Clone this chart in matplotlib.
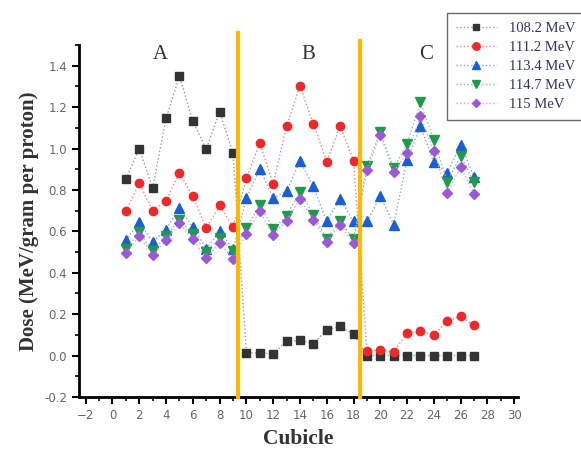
import matplotlib
matplotlib.use("Agg")
import matplotlib.pyplot as plt
from matplotlib.ticker import MultipleLocator

cubicle = list(range(1, 28))
dose_108_2 = [0.853, 0.998, 0.81, 1.146, 1.351, 1.132, 0.998, 1.178, 0.979,
              0.013, 0.013, 0.008, 0.069, 0.074, 0.058, 0.125, 0.141, 0.103,
              0.0, 0.0, 0.0, 0.0, 0.0, 0.0, 0.0, 0.0, 0.0]
dose_111_2 = [0.698, 0.833, 0.698, 0.749, 0.882, 0.77, 0.616, 0.725, 0.62,
              0.857, 1.026, 0.829, 1.107, 1.303, 1.119, 0.937, 1.11, 0.942,
              0.023, 0.026, 0.018, 0.109, 0.119, 0.098, 0.167, 0.19, 0.146]
dose_113_4 = [0.556, 0.645, 0.548, 0.609, 0.714, 0.62, 0.516, 0.601, 0.513,
              0.76, 0.902, 0.76, 0.794, 0.939, 0.818, 0.648, 0.757, 0.648,
              0.648, 0.77, 0.633, 0.946, 1.107, 0.934, 0.882, 1.019, 0.862]
dose_114_7 = [0.513, 0.596, 0.503, 0.577, 0.657, 0.588, 0.5, 0.569, 0.503,
              0.617, 0.728, 0.612, 0.676, 0.792, 0.681, 0.561, 0.649, 0.561,
              0.918, 1.079, 0.906, 1.022, 1.223, 1.041, 0.84, 0.966, 0.837]
dose_115 = [0.495, 0.577, 0.487, 0.556, 0.641, 0.561, 0.471, 0.543, 0.468,
            0.588, 0.696, 0.583, 0.652, 0.757, 0.657, 0.548, 0.632, 0.543,
            0.897, 1.067, 0.889, 0.977, 1.156, 0.987, 0.784, 0.913, 0.781]
series_labels = ["108.2 MeV", "111.2 MeV", "113.4 MeV", "114.7 MeV", "115 MeV"]
boundaries = [9.4, 18.5]
boundary_tops = [1.56, 1.52]
regions = ["A", "B", "C"]
region_x = [3.6, 14.6, 23.4]

fig = plt.figure(figsize=(5.81, 4.55), dpi=100)
ax = fig.add_axes([0.136, 0.1275, 0.756, 0.7735])

styles = [
    dict(color="#333333", marker="s", lc="#999999", ms=5.5),
    dict(color="#f02828", marker="o", lc="#f08080", ms=6),
    dict(color="#1a5fd6", marker="^", lc="#80a8ea", ms=6.5),
    dict(color="#1e9a48", marker="v", lc="#80c898", ms=6.5),
    dict(color="#9b59d6", marker="D", lc="#c8a8ea", ms=5),
]
data = [dose_108_2, dose_111_2, dose_113_4, dose_114_7, dose_115]
handles = []
for d, st, lab in zip(data, styles, series_labels):
    h, = ax.plot(cubicle, d, linestyle=":", color=st["lc"], linewidth=1.0,
                 marker=st["marker"], markersize=st["ms"],
                 markerfacecolor=st["color"], markeredgecolor=st["color"],
                 label=lab, zorder=3)
    handles.append(h)

for b, top in zip(boundaries, boundary_tops):
    ax.plot([b, b], [-0.2, top], color="#FFB800", linewidth=3, clip_on=False, zorder=4)

for r, rx in zip(regions, region_x):
    ax.text(rx, 1.455, r, fontsize=15, family="Liberation Serif", color="#333333",
            ha="center", va="center")

ax.set_xlim(-2.5, 30.3)
ax.set_ylim(-0.2, 1.5)
ax.xaxis.set_major_locator(MultipleLocator(2))
ax.xaxis.set_minor_locator(MultipleLocator(1))
ax.yaxis.set_major_locator(MultipleLocator(0.2))
ax.yaxis.set_minor_locator(MultipleLocator(0.1))
ax.spines["top"].set_visible(False)
ax.spines["right"].set_visible(False)
ax.spines["left"].set_linewidth(2)
ax.spines["bottom"].set_linewidth(2)
ax.tick_params(which="major", direction="out", length=5, width=1.5, labelsize=8.5,
               labelcolor="#666666")
ax.tick_params(which="minor", direction="out", length=3, width=1.2)
ax.set_yticks([-0.2, 0.0, 0.2, 0.4, 0.6, 0.8, 1.0, 1.2, 1.4])
ax.set_yticklabels(["-0.2", "0.0", "0.2", "0.4", "0.6", "0.8", "1.0", "1.2", "1.4"])

ax.set_xlabel("Cubicle", fontsize=15.5, family="Liberation Serif", fontweight="bold",
              color="#333333", labelpad=5)
ax.set_ylabel("Dose (MeV/gram per proton)", fontsize=15, family="Liberation Serif",
              fontweight="bold", color="#333333", labelpad=4)

leg = fig.legend(handles=handles, loc="upper left", bbox_to_anchor=(440/581, 1 - 6/455),
                 prop={"family": "Liberation Serif", "size": 10.5}, frameon=True,
                 fancybox=False, edgecolor="#444444", handlelength=2.8,
                 borderpad=0.6, labelspacing=0.4, markerscale=0.9)
leg.get_frame().set_linewidth(1.0)
for t in leg.get_texts():
    t.set_color("#333366")

fig.savefig("out.png", dpi=100)
